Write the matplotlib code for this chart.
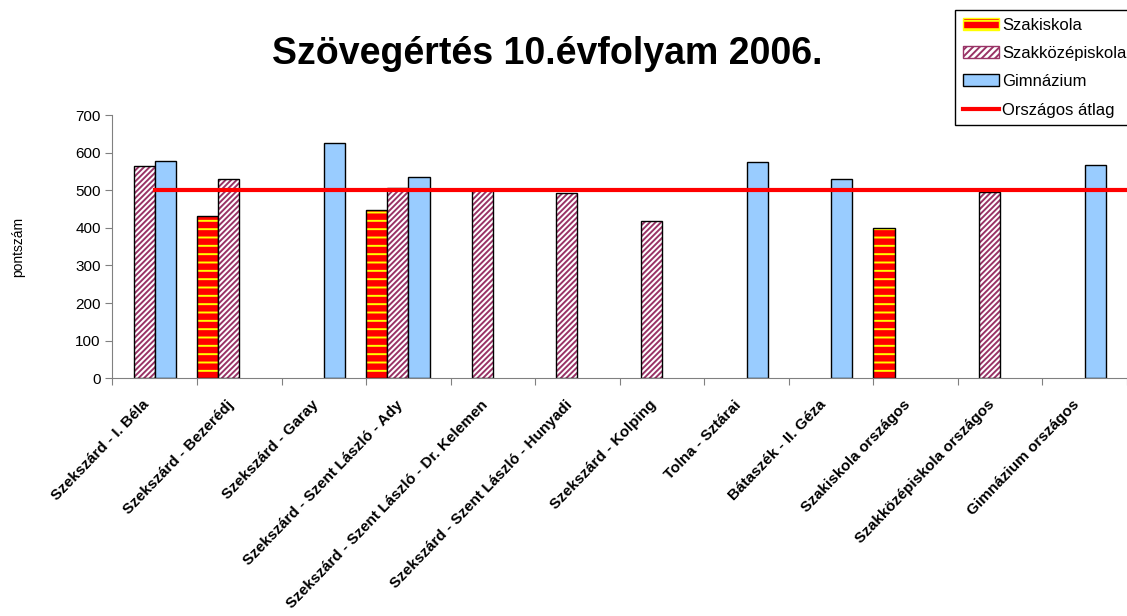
import numpy as np
import matplotlib.pyplot as plt
from matplotlib.patches import Patch
from matplotlib.lines import Line2D

plt.rcParams['font.family'] = ['Liberation Sans', 'DejaVu Sans']
plt.rcParams['hatch.linewidth'] = 1.4

categories = ['Szekszárd - I. Béla', 'Szekszárd - Bezerédj', 'Szekszárd - Garay',
              'Szekszárd - Szent László - Ady', 'Szekszárd - Szent László - Dr. Kelemen',
              'Szekszárd - Szent László - Hunyadi', 'Szekszárd - Kolping', 'Tolna - Sztárai',
              'Bátaszék - II. Géza', 'Szakiskola országos', 'Szakközépiskola országos',
              'Gimnázium országos']
szakiskola = [np.nan, 431, np.nan, 447, np.nan, np.nan, np.nan, np.nan, np.nan, 400, np.nan, np.nan]
szakkozep = [565, 530, np.nan, 505, 500, 492, 418, np.nan, np.nan, np.nan, 495, np.nan]
gimnazium = [579, np.nan, 625, 535, np.nan, np.nan, np.nan, 575, 530, np.nan, np.nan, 568]
orszagos_atlag = 500

fig = plt.figure(figsize=(11.27, 6.16), dpi=100)
ax = fig.add_axes([0.0998, 0.386, 0.9002, 0.4273])

n = len(categories)
x = np.arange(n)
w = 0.25

# Szakiskola: red with yellow stripes
ax.bar(x + 0.125, szakiskola, w, color='#FF0000', edgecolor='#FFFF00', hatch='--', linewidth=0)
ax.bar(x + 0.125, szakiskola, w, fill=False, edgecolor='black', linewidth=1)
# Szakközépiskola: white with purple diagonals
ax.bar(x + 0.375, szakkozep, w, color='white', edgecolor='#993366', hatch='//////', linewidth=0)
ax.bar(x + 0.375, szakkozep, w, fill=False, edgecolor='black', linewidth=1)
# Gimnázium
ax.bar(x + 0.625, gimnazium, w, color='#99CCFF', edgecolor='black', linewidth=1)

ax.plot([0.5, n], [orszagos_atlag, orszagos_atlag], color='#FF0000', linewidth=3)

ax.set_xlim(0, n)
ax.set_ylim(0, 700)
ax.set_yticks(np.arange(0, 701, 100))
ax.tick_params(axis='y', labelsize=11, length=5, color='#808080')
ax.set_xticks(np.arange(n + 1))
ax.set_xticklabels([])
ax.tick_params(axis='x', length=5, color='#808080')
ax.set_xticks(x + 0.35, minor=True)
ax.set_xticklabels(categories, minor=True, rotation=46, ha='right', rotation_mode='anchor',
                   fontsize=11, fontweight='bold')
ax.tick_params(axis='x', which='minor', length=0, pad=14)
for s in ['top', 'right']:
    ax.spines[s].set_visible(False)
ax.spines['left'].set_color('#808080')
ax.spines['bottom'].set_color('#808080')

ax.set_ylabel('pontszám', fontsize=10, labelpad=36)

fig.text(0.486, 0.912, 'Szövegértés 10.évfolyam 2006.', ha='center', va='center',
         fontsize=27, fontweight='bold')

handles = [
    Patch(facecolor='#FF0000', edgecolor='#FFFF00', hatch='--'),
    Patch(facecolor='white', edgecolor='#993366', hatch='/////'),
    Patch(facecolor='#99CCFF', edgecolor='black'),
    Line2D([0], [0], color='#FF0000', linewidth=3),
]
leg = fig.legend(handles, ['Szakiskola', 'Szakközépiskola', 'Gimnázium', 'Országos átlag'],
                 loc='upper left', bbox_to_anchor=(955 / 1127, 1 - 10 / 616), fontsize=12,
                 fancybox=False, framealpha=1, edgecolor='black', handlelength=2.2,
                 handletextpad=0.2, borderpad=0.45, labelspacing=0.8, borderaxespad=0)
leg.get_frame().set_linewidth(1)

fig.savefig('out.png', dpi=100)
